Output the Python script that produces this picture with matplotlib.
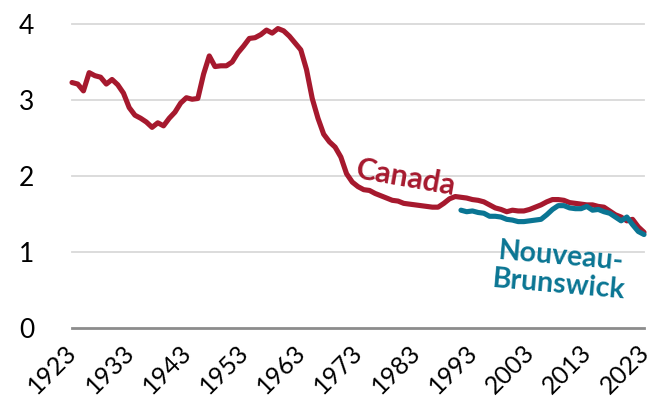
import matplotlib
matplotlib.use('Agg')
import matplotlib.pyplot as plt
from matplotlib.transforms import ScaledTranslation

plt.rcParams['font.family'] = ['Lato', 'DejaVu Sans']

# Total fertility rate, Canada and New Brunswick
canada_years = list(range(1923, 2024))
canada_rate = [
    3.23, 3.21, 3.12, 3.36, 3.32, 3.30, 3.21, 3.27, 3.20, 3.09,   # 1923-1932
    2.90, 2.80, 2.76, 2.71, 2.64, 2.70, 2.66, 2.76, 2.84, 2.96,   # 1933-1942
    3.03, 3.01, 3.02, 3.34, 3.58, 3.44, 3.45, 3.45, 3.50, 3.62,   # 1943-1952
    3.71, 3.81, 3.82, 3.86, 3.92, 3.88, 3.94, 3.91, 3.84, 3.75,   # 1953-1962
    3.66, 3.40, 3.02, 2.76, 2.55, 2.45, 2.38, 2.25, 2.03, 1.92,   # 1963-1972
    1.86, 1.82, 1.81, 1.77, 1.74, 1.71, 1.68, 1.67, 1.64, 1.63,   # 1973-1982
    1.62, 1.61, 1.60, 1.59, 1.59, 1.64, 1.70, 1.73, 1.72, 1.71,   # 1983-1992
    1.69, 1.68, 1.66, 1.62, 1.58, 1.56, 1.53, 1.55, 1.54, 1.54,   # 1993-2002
    1.56, 1.59, 1.62, 1.66, 1.69, 1.69, 1.68, 1.65, 1.64, 1.63,   # 2003-2012
    1.62, 1.62, 1.60, 1.59, 1.54, 1.49, 1.46, 1.41, 1.43, 1.33,   # 2013-2022
    1.26,                                                         # 2023
]

nb_years = list(range(1991, 2024))
nb_rate = [
    1.55, 1.53, 1.54, 1.52, 1.51, 1.47, 1.47, 1.46, 1.43, 1.42,   # 1991-2000
    1.40, 1.40, 1.41, 1.42, 1.43, 1.49, 1.56, 1.61, 1.61, 1.58,   # 2001-2010
    1.57, 1.57, 1.60, 1.55, 1.56, 1.53, 1.51, 1.46, 1.41, 1.46,   # 2011-2020
    1.36, 1.27, 1.23,                                             # 2021-2023
]

tick_years = list(range(1923, 2024, 10))
y_ticks = [0, 1, 2, 3, 4]

red = '#A6192E'
teal = '#0A7593'

fig = plt.figure(figsize=(6.54, 4.05), dpi=100)
ax = fig.add_axes([72 / 654, 1 - 328 / 405, (644 - 72) / 654, (328 - 24) / 405])

for y in y_ticks[1:]:
    ax.axhline(y, color='#d9d9d9', lw=1.3, zorder=0, clip_on=False)
ax.axhline(0, color='#8c8c8c', lw=2.0, zorder=1, clip_on=False)

ax.plot(canada_years, canada_rate, color=red, lw=3.7, solid_capstyle='round',
        solid_joinstyle='round', zorder=3, clip_on=False)
ax.plot(nb_years, nb_rate, color=teal, lw=3.7, solid_capstyle='round',
        solid_joinstyle='round', zorder=4, clip_on=False)

ax.set_xlim(1923, 2023)
ax.set_ylim(0, 4)
ax.set_yticks(y_ticks)
ax.set_xticks(tick_years)
ax.set_xticklabels([str(t) for t in tick_years], rotation=45, ha='right',
                   rotation_mode='anchor', fontsize=18)
ax.tick_params(axis='y', labelsize=19, length=0, pad=27)
ax.tick_params(axis='x', length=0, pad=9)
shift = ScaledTranslation(-7 / 100, 0, fig.dpi_scale_trans)
for lab in ax.get_xticklabels():
    lab.set_transform(lab.get_transform() + shift)
for s in ax.spines.values():
    s.set_visible(False)

ax.text(1981.4, 1.97, 'Canada', color=red, fontsize=22, fontweight='bold',
        rotation=-10, ha='center', va='center')
ax.text(2008.3, 0.75, 'Nouveau-\nBrunswick', color=teal, fontsize=20.5,
        fontweight='bold', rotation=-5, ha='center', va='center',
        linespacing=1.12)

fig.savefig('out.png', dpi=100)
